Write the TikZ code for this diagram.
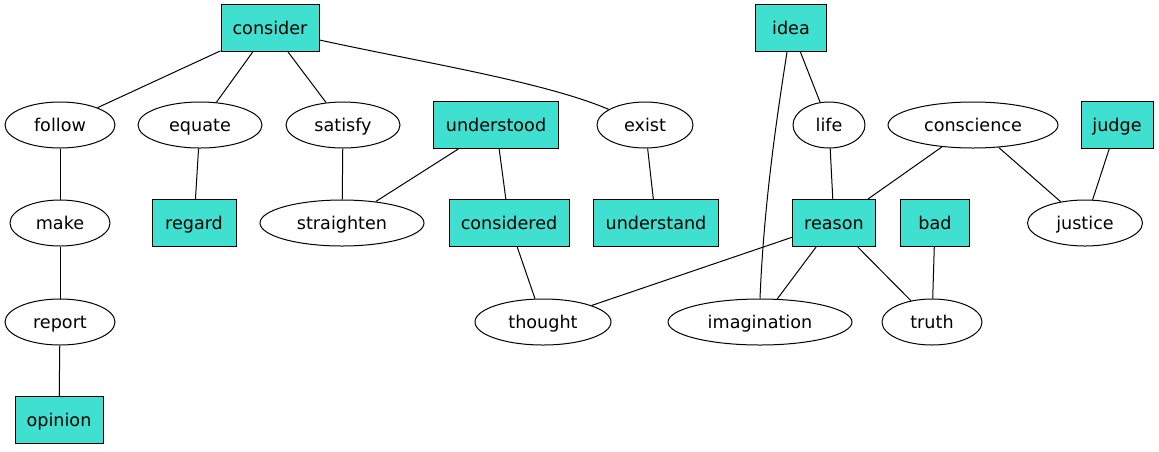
\documentclass[tikz,border=0pt]{standalone}
\usepackage{fontspec}
\setmainfont{DejaVu Sans}
\usetikzlibrary{shapes.geometric}
\definecolor{turq}{HTML}{40E0D0}
\begin{document}
\begin{tikzpicture}[x=0.75pt,y=-0.75pt,
  every node/.style={font=\fontsize{13.2pt}{15pt}\selectfont, inner sep=0pt, line width=0.75pt, text height=12pt, text depth=2.6pt},
  bx/.style={draw, fill=turq, rectangle, minimum width=#1*0.75pt, minimum height=35.25pt},
  el/.style={draw, ellipse, minimum width=#1*0.75pt, minimum height=34.5pt},
  edge/.style={line width=0.75pt}]
\useasboundingbox (0,0) rectangle (1159,451);
\node[bx=98] (consider) at (270,28) {consider};
\node[bx=71] (idea) at (791,28) {idea};
\node[el=110] (follow) at (60,125) {follow};
\node[el=124] (equate) at (200,125) {equate};
\node[el=114] (satisfy) at (343,125) {satisfy};
\node[bx=125] (understood) at (496,125) {understood};
\node[el=96] (exist) at (645,125) {exist};
\node[el=72] (life) at (829,125) {life};
\node[el=170] (conscience) at (973,125) {conscience};
\node[bx=72] (judge) at (1117,125) {judge};
\node[el=100] (make) at (60,223) {make};
\node[bx=84] (regard) at (194,223) {regard};
\node[el=164] (straighten) at (342,223) {straighten};
\node[bx=120] (considered) at (509,223) {considered};
\node[bx=125] (understand) at (656,223) {understand};
\node[bx=83] (reason) at (834,223) {reason};
\node[bx=69] (bad) at (935,223) {bad};
\node[el=115] (justice) at (1085,223) {justice};
\node[el=110] (report) at (60,322) {report};
\node[el=136] (thought) at (543,322) {thought};
\node[el=184] (imagination) at (760,322) {imagination};
\node[el=100] (truth) at (932,322) {truth};
\node[bx=88] (opinion) at (59,420) {opinion};

\draw[edge] (consider) -- (follow);
\draw[edge] (consider) -- (equate);
\draw[edge] (consider) -- (satisfy);
\draw[edge] (consider.east |- 0,40) .. controls (420,62) and (545,82) .. (exist);
\draw[edge] (idea) -- (life);
\draw[edge] (787,52) .. controls (778,110) and (764,200) .. (imagination.north);
\draw[edge] (follow) -- (make);
\draw[edge] (equate) -- (regard);
\draw[edge] (satisfy) -- (straighten);
\draw[edge] (understood) -- (straighten);
\draw[edge] (understood) -- (considered);
\draw[edge] (exist) -- (understand);
\draw[edge] (life) -- (reason);
\draw[edge] (conscience) -- (reason);
\draw[edge] (conscience) -- (justice);
\draw[edge] (judge) -- (justice);
\draw[edge] (make) -- (report);
\draw[edge] (considered) -- (thought);
\draw[edge] (reason) -- (thought);
\draw[edge] (reason) -- (imagination);
\draw[edge] (reason) -- (truth);
\draw[edge] (bad) -- (truth);
\draw[edge] (report) -- (opinion);
\end{tikzpicture}
\end{document}
